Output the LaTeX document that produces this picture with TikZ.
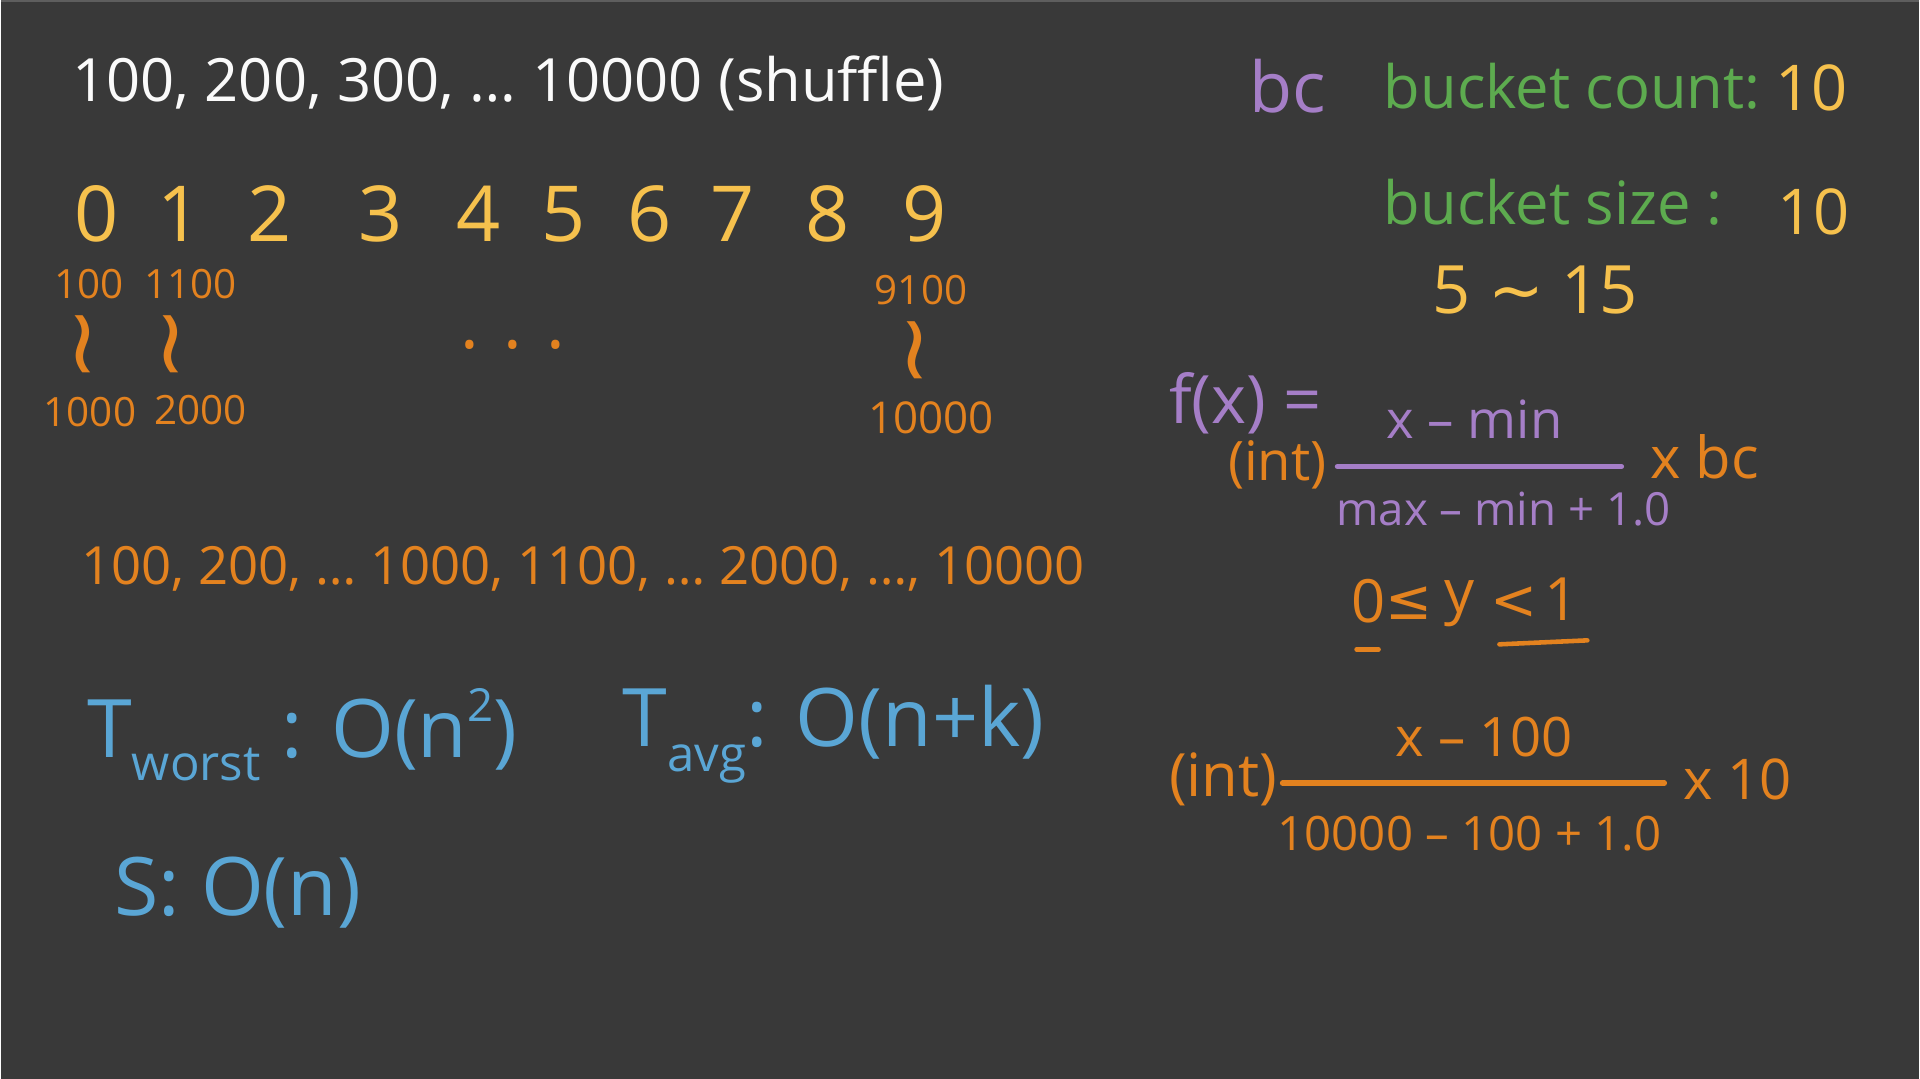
\documentclass[tikz,border=0pt]{standalone}
\usepackage{fontspec}
\setmainfont{Open Sans}
\newfontfamily\bssym{DejaVu Sans}
\usetikzlibrary{positioning}
\definecolor{bsbg}{HTML}{393939}
\definecolor{bsedge}{HTML}{5E5E5E}
\definecolor{bswhite}{HTML}{FAFAFA}
\definecolor{bsyellow}{HTML}{F6C14D}
\definecolor{bsorange}{HTML}{E3821F}
\definecolor{bsgreen}{HTML}{5DAB4F}
\definecolor{bspurple}{HTML}{A57EC7}
\definecolor{bsblue}{HTML}{5AA6D5}
\newcommand{\bsfs}[1]{\fontsize{#1}{#1}\selectfont}
\tikzset{
  bs text/.style={inner sep=0pt, anchor=west},
  bs white/.style={bs text, text=bswhite},
  bs yellow/.style={bs text, text=bsyellow},
  bs orange/.style={bs text, text=bsorange},
  bs green/.style={bs text, text=bsgreen},
  bs purple/.style={bs text, text=bspurple},
  bs blue/.style={bs text, text=bsblue},
  bs index/.style={bs yellow, anchor=center, font=\bsfs{44}},
  bs range/.style={bs orange, anchor=center, font=\bsfs{23}},
  bs tilde/.style={bs orange, anchor=center, rotate=90, font=\bssym\bsfs{52}},
  bs bar/.style={line width=3.2pt, line cap=round}
}

\begin{document}
\begin{tikzpicture}[x=0.2mm, y=-0.2mm]
  \fill[bsbg] (0,0) rectangle (1920,1080);
  \draw[bsedge, line width=1.2pt] (0,1) -- (1920,1);
  % input
  \node[bs white, font=\bsfs{34}] (input) at (71,83) {100, 200, 300, … 10000 (shuffle)};
  % bucket indices
  \foreach \d/\x in {0/96,1/179,2/269,3/380,4/478,5/563,6/649,7/732,8/827,9/925}
    \node[bs index] (idx\d) at (\x,214) {\d};
  % bucket ranges
  \node[bs range] (lo0) at (88,284) {100};
  \node[bs range] (lo1) at (190,284) {1100};
  \node[bs range] (lo9) at (921,290) {9100};
  \node[bs tilde] (tl0) at (92,345) {∼};
  \node[bs tilde] (tl1) at (180,345) {∼};
  \node[bs tilde] (tl9) at (925,351) {∼};
  \node[bs range, font=\bsfs{40}] (gap) at (512,345) {. . .};
  \node[bs range] (hi0) at (89,412) {1000};
  \node[bs range] (hi1) at (200,410) {2000};
  \node[bs range, font=\bsfs{25}] (hi9) at (931,418) {10000};
  % sorted output
  \node[bs orange, font=\bsfs{30}] (sorted) at (80,569) {100, 200, … 1000, 1100, … 2000, …, 10000};
  % complexity
  \node[bs blue, font=\bsfs{46}] (tworst) at (86,735) {T\raisebox{-0.28em}{\bsfs{28}worst} : O(n\raisebox{0.45em}{\bsfs{26}2})};
  \node[bs blue, font=\bsfs{46}] (tavg) at (622,735) {T\raisebox{-0.32em}{\bsfs{28}avg}: O(n+k)};
  \node[bs blue, font=\bsfs{46}] (space) at (113,894) {S: O(n)};
  % bucket parameters
  \node[bs purple, font=\bsfs{40}] (bc) at (1249,86) {bc};
  \node[bs green, font=\bsfs{34}] (count) at (1384,86) {bucket count:};
  \node[bs yellow, font=\bsfs{36}] (countval) at (1776,88) {10};
  \node[bs green, font=\bsfs{34}] (size) at (1384,202) {bucket size :};
  \node[bs yellow, font=\bsfs{36}] (sizeval) at (1778,212) {10};
  \node[bs yellow, font=\bsfs{38}] (sizerange) at (1433,290) {5 {\bssym∼} 15};
  % index function
  \node[bs purple, font=\bsfs{38}] (fx) at (1169,404) {f(x) =};
  \node[bs purple, anchor=center, font=\bsfs{30}] (fnum) at (1475,420) {x – min};
  \coordinate (fbarl) at (1338,467);
  \coordinate (fbarr) at (1622,467);
  \draw[bs bar, bspurple] (fbarl) -- (fbarr);
  \node[bs orange, font=\bsfs{31}] (fint) at (1228,465) {(int)};
  \node[bs orange, font=\bsfs{33}] (fmul) at (1651,457) {x bc};
  \node[bs purple, anchor=center, font=\bsfs{26}] (fden) at (1504,510) {max – min + 1.0};
  % bounds
  \node[bs orange, anchor=center, font=\bsfs{34}] (bzero) at (1369,602) {0};
  \node[bs orange, anchor=center, font=\bssym\bsfs{32}] (ble) at (1410,604) {≤};
  \node[bs orange, anchor=center, font=\bsfs{34}] (by) at (1460,604) {y};
  \node[bs orange, anchor=center, font=\bssym\bsfs{32}] (blt) at (1515,604) {<};
  \node[bs orange, anchor=center, font=\bsfs{34}] (bone) at (1562,600) {1};
  \coordinate (ula) at (1357,650);
  \coordinate (ulb) at (1379,650);
  \coordinate (ulc) at (1500,645);
  \coordinate (uld) at (1588,641);
  \draw[bs bar, bsorange, line width=2.6pt] (ula) -- (ulb);
  \draw[bs bar, bsorange, line width=2.6pt] (ulc) -- (uld);
  % worked example
  \node[bs orange, font=\bsfs{34}] (eint) at (1169,780) {(int)};
  \node[bs orange, anchor=center, font=\bsfs{31}] (enum) at (1485,738) {x – 100};
  \coordinate (ebarl) at (1283,784);
  \coordinate (ebarr) at (1665,784);
  \draw[bs bar, bsorange] (ebarl) -- (ebarr);
  \node[bs orange, font=\bsfs{32}] (emul) at (1684,780) {x 10};
  \node[bs orange, anchor=center, font=\bsfs{27}] (eden) at (1470,835) {10000 – 100 + 1.0};
\end{tikzpicture}
\end{document}
